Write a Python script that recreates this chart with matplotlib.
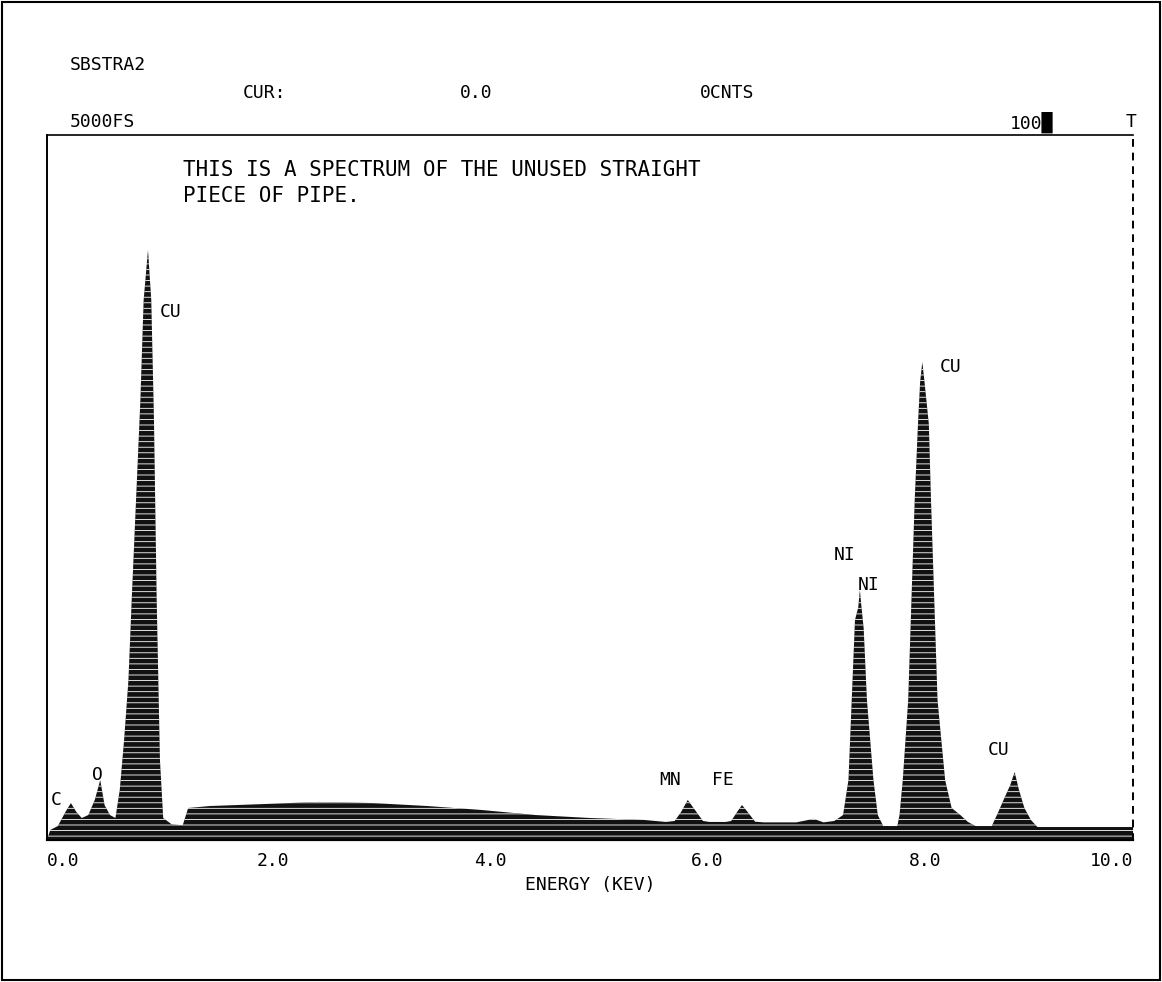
import numpy as np
import matplotlib
matplotlib.use("Agg")
import matplotlib.pyplot as plt
from matplotlib.patches import Rectangle
from matplotlib.transforms import ScaledTranslation

# spectrum (energy in keV, counts, full scale 5000)
energy = [0.00, 0.03, 0.10, 0.17, 0.22, 0.27, 0.32, 0.38, 0.44, 0.49, 0.53, 0.58,
          0.63, 0.67, 0.71, 0.75, 0.78, 0.82, 0.86, 0.89, 0.93, 0.96, 0.985, 1.01,
          1.04, 1.07, 1.15, 1.25, 1.30, 1.50, 2.00, 2.50, 3.00, 3.50, 4.00, 4.50,
          5.00, 5.50, 5.70, 5.78, 5.84, 5.90, 5.96, 6.04, 6.10, 6.25, 6.30, 6.36,
          6.40, 6.45, 6.52, 6.60, 6.90, 7.06, 7.15, 7.25, 7.33, 7.38, 7.41, 7.44,
          7.47, 7.485, 7.50, 7.52, 7.55, 7.61, 7.65, 7.70, 7.83, 7.85, 7.88, 7.93,
          7.96, 7.99, 8.02, 8.04, 8.06, 8.08, 8.12, 8.14, 8.17, 8.20, 8.27, 8.33,
          8.41, 8.48, 8.55, 8.70, 8.76, 8.82, 8.87, 8.91, 8.95, 9.00, 9.06, 9.12,
          9.50, 10.00]
counts = [0, 71, 99, 199, 262, 199, 156, 177, 284, 425, 248, 177,
          156, 355, 709, 1135, 1702, 2411, 3121, 3830, 4184, 3830, 2979, 1702,
          567, 156, 110, 105, 227, 241, 255, 270, 262, 241, 213, 177,
          156, 142, 128, 135, 200, 284, 220, 135, 128, 128, 135, 205,
          248, 200, 130, 125, 125, 150, 125, 135, 177, 425, 993, 1560,
          1650, 1773, 1650, 1500, 993, 425, 177, 99, 99, 177, 425, 993,
          1702, 2411, 2950, 3250, 3390, 3250, 2950, 2411, 1702, 993, 425, 227,
          177, 128, 99, 99, 199, 305, 390, 482, 355, 227, 142, 92,
          92, 92]

tick_pos = [0, 2, 4, 6, 8, 10]
tick_lab = ["0.0", "2.0", "4.0", "6.0", "8.0", "10.0"]

# peak labels: (text, energy, counts, ha)
peak_labels = [("CU", 1.04, 3745, "left"), ("CU", 8.22, 3355, "left"),
               ("NI", 7.24, 2021, "left"), ("NI", 7.47, 1808, "left"),
               ("CU", 8.66, 638, "left"), ("MN", 5.64, 425, "left"),
               ("FE", 6.12, 425, "left"), ("O", 0.46, 461, "center"),
               ("C", 0.03, 284, "left")]

W, H = 1162, 982
mono = "DejaVu Sans Mono"
plt.rcParams["font.family"] = mono
plt.rcParams["hatch.linewidth"] = 0.6

fig = plt.figure(figsize=(W / 100, H / 100), dpi=100)
ax = fig.add_axes([47 / W, 1 - 840 / H, (1133 - 47) / W, (840 - 135) / H])

ax.fill_between(energy, counts, 0, facecolor="#111111", edgecolor="white",
                linewidth=0, hatch="---")
ax.set_xlim(0, 10)
ax.set_ylim(0, 5000)
ax.set_yticks([])
ax.set_xticks(tick_pos)
ax.set_xticklabels(tick_lab, fontsize=13)
ax.tick_params(axis="x", length=0, pad=9)
labs = ax.get_xticklabels()
labs[0].set_ha("left")
labs[-1].set_ha("right")
for lab in labs[1:-1]:
    lab.set_transform(lab.get_transform() + ScaledTranslation(0.09, 0, fig.dpi_scale_trans))
ax.set_xlabel("ENERGY (KEV)", fontsize=13, labelpad=4)

ax.spines["left"].set_linestyle((0, (4, 1)))
ax.spines["left"].set_linewidth(1.4)
ax.spines["right"].set_linestyle((0, (3, 4)))
ax.spines["right"].set_linewidth(1.4)
ax.spines["top"].set_linewidth(1.2)
ax.spines["bottom"].set_linewidth(1.6)

for s, e, c, ha in peak_labels:
    ax.text(e, c, s, fontsize=13, ha=ha, va="center")

# note written on the print
fig.text(183 / W, 1 - 170 / H, "THIS IS A SPECTRUM OF THE UNUSED STRAIGHT",
         fontsize=15, va="center")
fig.text(183 / W, 1 - 196 / H, "PIECE OF PIPE.", fontsize=15, va="center")

# header lines
header = [("SBSTRA2", 70, 65), ("CUR:", 243, 93), ("0.0", 460, 93),
          ("0CNTS", 700, 93), ("5000FS", 70, 122), ("100\u2588", 1010, 122),
          ("T", 1126, 122)]
for s, x, y in header:
    fig.text(x / W, 1 - y / H, s, fontsize=13, va="center")

fig.patches.append(Rectangle((0.002, 0.002), 0.996, 0.996, transform=fig.transFigure,
                             fill=False, edgecolor="black", linewidth=1.5))

fig.savefig("out.png", dpi=100)
